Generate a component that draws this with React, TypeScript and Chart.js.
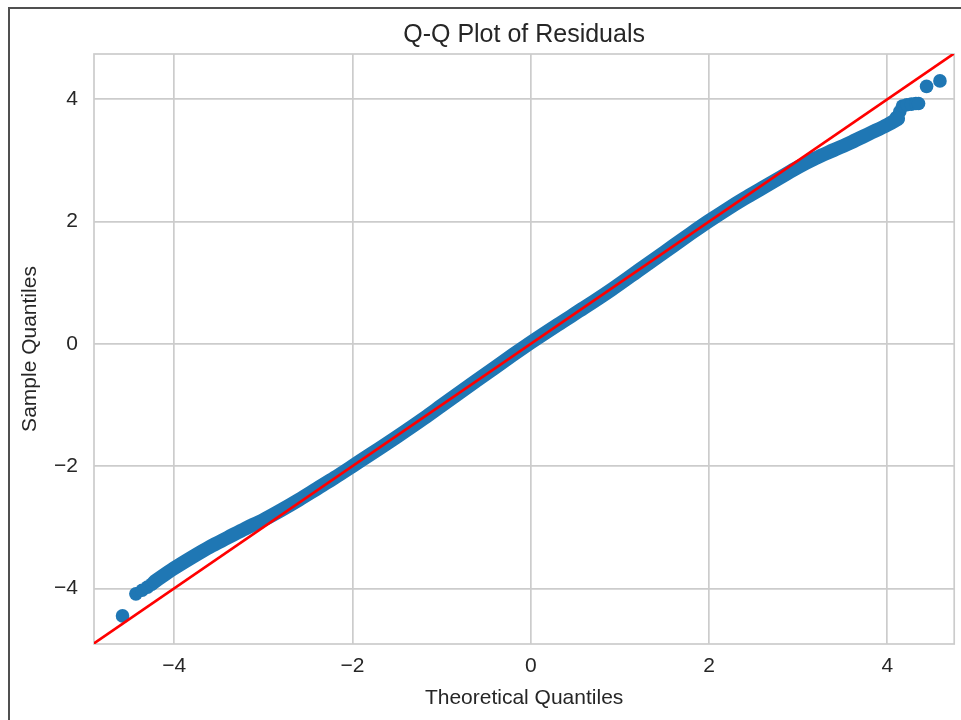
import React, { useEffect, useRef } from "react";
import { Chart, registerables } from "chart.js";

Chart.register(...registerables);

// ---------- text ----------
const chartTitle = "Q-Q Plot of Residuals";
const xAxisLabel = "Theoretical Quantiles";
const yAxisLabel = "Sample Quantiles";

// ---------- axes ----------
const xTicks = [-4, -2, 0, 2, 4];
const yTicks = [-4, -2, 0, 2, 4];
const xRange = [-4.9, 4.75];
const yRange = [-4.91, 4.74];

// ---------- data ----------
// centre of the dense band of sample quantiles
const bandTheoretical = [
  -4.22, -4.0, -3.8, -3.6, -3.4, -3.2, -3.0, -2.8, -2.6, -2.4, -2.2, -2.0,
  -1.8, -1.5, -1.2, -1.0, -0.8, -0.5, -0.2, 0.0, 0.3, 0.6, 0.9, 1.2, 1.5,
  1.8, 2.0, 2.2, 2.4, 2.6, 2.8, 3.0, 3.2, 3.4, 3.6, 3.8, 4.0, 4.12,
];
const bandSample = [
  -3.89, -3.67, -3.49, -3.32, -3.17, -3.02, -2.88, -2.72, -2.55, -2.37, -2.19,
  -2.0, -1.81, -1.52, -1.22, -1.01, -0.8, -0.49, -0.18, 0.02, 0.31, 0.59, 0.88,
  1.19, 1.5, 1.81, 2.01, 2.2, 2.38, 2.55, 2.72, 2.89, 3.04, 3.17, 3.3, 3.44,
  3.58, 3.68,
];
// separate points in both tails
const tailTheoretical = [
  -4.58, -4.43, -4.36, -4.3, -4.25, 4.1, 4.14, 4.17, 4.22, 4.27, 4.32, 4.35,
  4.44, 4.59,
];
const tailSample = [
  -4.45, -4.09, -4.03, -3.98, -3.93, 3.7, 3.8, 3.89, 3.91, 3.92, 3.93, 3.93,
  4.21, 4.3,
];
// 45-degree reference line
const refLineX = [-5, 5];
const refLineY = [-5, 5];

const FONT = "'Liberation Sans', Arial, 'DejaVu Sans', sans-serif";
const TEXT = "#262626";
const GRID = "#cccccc";
const BLUE = "#1f77b4";

const fmt = (v: number) => (v < 0 ? "\u2212" + Math.abs(v) : String(v));

const framePlugin = {
  id: "frame",
  beforeDatasetsDraw(chart: any) {
    const { ctx, chartArea } = chart;
    ctx.save();
    ctx.strokeStyle = GRID;
    ctx.lineWidth = 1.7;
    ctx.strokeRect(
      chartArea.left,
      chartArea.top,
      chartArea.right - chartArea.left,
      chartArea.bottom - chartArea.top
    );
    ctx.restore();
  },
};

export default function App() {
  const ref = useRef<HTMLCanvasElement | null>(null);

  useEffect(() => {
    if (!ref.current) return;
    const band = bandTheoretical.map((x, i) => ({ x, y: bandSample[i] }));
    const tails = tailTheoretical.map((x, i) => ({ x, y: tailSample[i] }));
    const ref45 = refLineX.map((x, i) => ({ x, y: refLineY[i] }));

    const chart = new Chart(ref.current, {
      type: "scatter",
      data: {
        datasets: [
          {
            label: "reference",
            data: ref45,
            showLine: true,
            borderColor: "#ff0000",
            borderWidth: 2.6,
            pointRadius: 0,
            clip: 0,
            order: 0,
          },
          {
            label: "band",
            data: band,
            showLine: true,
            borderColor: BLUE,
            backgroundColor: BLUE,
            borderWidth: 14,
            borderCapStyle: "round",
            borderJoinStyle: "round",
            cubicInterpolationMode: "monotone",
            pointRadius: 0,
            clip: 0,
            order: 1,
          },
          {
            label: "tails",
            data: tails,
            showLine: false,
            backgroundColor: BLUE,
            borderColor: BLUE,
            borderWidth: 0,
            pointRadius: 6.8,
            clip: 0,
            order: 1,
          },
        ],
      } as any,
      options: {
        responsive: false,
        animation: false,
        events: [],
        layout: { padding: { left: 0, right: 6, top: 0, bottom: 0 } },
        plugins: {
          legend: { display: false },
          tooltip: { enabled: false },
          title: {
            display: true,
            text: chartTitle,
            fullSize: false,
            color: TEXT,
            font: { family: FONT, size: 25, weight: "normal" },
            padding: { top: 11, bottom: 4 },
          },
        },
        scales: {
          x: {
            type: "linear",
            min: xRange[0],
            max: xRange[1],
            afterBuildTicks: (s: any) => {
              s.ticks = xTicks.map((v) => ({ value: v }));
            },
            afterFit: (s: any) => {
              s.height = 76;
            },
            ticks: {
              color: TEXT,
              font: { family: FONT, size: 21 },
              padding: 10,
              maxRotation: 0,
              callback: (v: any) => fmt(Number(v)),
            },
            grid: { color: GRID, lineWidth: 1.7, drawTicks: false },
            border: { display: false },
            title: {
              display: true,
              text: xAxisLabel,
              color: TEXT,
              font: { family: FONT, size: 21 },
              padding: { top: 0, bottom: 9 },
            },
          },
          y: {
            type: "linear",
            min: yRange[0],
            max: yRange[1],
            afterBuildTicks: (s: any) => {
              s.ticks = yTicks.map((v) => ({ value: v }));
            },
            afterFit: (s: any) => {
              s.width = 84;
            },
            ticks: {
              color: TEXT,
              font: { family: FONT, size: 21 },
              padding: 16,
              callback: (v: any) => fmt(Number(v)),
            },
            grid: { color: GRID, lineWidth: 1.7, drawTicks: false },
            border: { display: false },
            title: {
              display: true,
              text: yAxisLabel,
              color: TEXT,
              font: { family: FONT, size: 21 },
              padding: { top: 8, bottom: 0 },
            },
          },
        },
      } as any,
      plugins: [framePlugin],
    });
    return () => chart.destroy();
  }, []);

  return (
    <div
      style={{
        position: "fixed",
        left: 8,
        top: 7,
        borderLeft: "2px solid #505050",
        borderTop: "2px solid #505050",
        background: "#ffffff",
      }}
    >
      <canvas ref={ref} width={951} height={711} style={{ display: "block" }} />
    </div>
  );
}
